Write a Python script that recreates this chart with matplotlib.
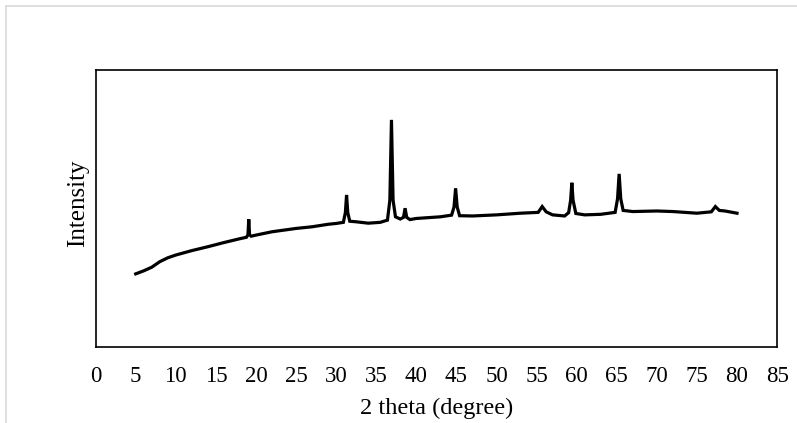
import matplotlib
matplotlib.use("Agg")
import matplotlib.pyplot as plt
from matplotlib.lines import Line2D

plt.rcParams["font.family"] = ["Liberation Serif", "DejaVu Serif"]

# ── XRD pattern (arbitrary intensity units) ───
two_theta = [5.0, 6.0, 7.0, 8.0, 9.0, 10.0, 12.0, 14.0, 16.0, 18.0,
             18.8, 19.0, 19.1, 19.2, 19.4, 20.0, 22.0, 25.0, 27.0, 29.0,
             30.0, 30.9, 31.15, 31.3, 31.45, 31.7, 32.5, 34.0, 35.5, 36.4,
             36.7, 36.9, 37.1, 37.4, 38.0, 38.4, 38.6, 38.8, 39.2, 40.0,
             43.0, 44.4, 44.7, 44.9, 45.1, 45.4, 47.0, 50.0, 53.0, 55.2,
             55.7, 56.2, 57.0, 58.5, 59.0, 59.25, 59.4, 59.55, 59.9, 61.0,
             63.0, 64.8, 65.1, 65.3, 65.5, 65.8, 67.0, 70.0, 72.0, 75.0,
             76.8, 77.3, 77.8, 78.5, 80.0]
intensity = [26.4, 27.5, 28.8, 30.8, 32.2, 33.2, 34.8, 36.2, 37.7, 39.1,
             39.6, 40.5, 46.1, 40.5, 40.0, 40.4, 41.6, 42.8, 43.4, 44.3,
             44.6, 45.0, 48.5, 54.9, 48.5, 45.4, 45.2, 44.7, 45.0, 45.8,
             53.0, 82.0, 53.0, 47.0, 46.2, 46.8, 50.1, 46.8, 46.0, 46.4,
             47.0, 47.6, 50.5, 57.3, 50.5, 47.4, 47.3, 47.7, 48.3, 48.6,
             50.7, 48.8, 47.7, 47.3, 48.5, 53.0, 59.3, 53.0, 48.2, 47.7,
             47.9, 48.6, 53.5, 62.5, 53.5, 49.3, 48.9, 49.1, 48.9, 48.3,
             48.8, 50.7, 49.3, 49.1, 48.3]

XTICKS = list(range(0, 90, 5))

fig = plt.figure(figsize=(7.97, 4.23), dpi=100)
ax = fig.add_axes([0.1200, 0.1797, 0.975 - 0.1200, 0.8345 - 0.1797])

ax.plot(two_theta, intensity, color="black", lw=2.3, solid_joinstyle="miter")

ax.set_xlim(0, 85)
ax.set_ylim(0, 100)
ax.set_xticks(XTICKS)
ax.set_xticklabels([str(t) for t in XTICKS])
ax.set_yticks([])
ax.tick_params(axis="x", length=0, pad=13.5, labelsize=16.5)
for sp in ax.spines.values():
    sp.set_color("black")
    sp.set_linewidth(1.2)

ax.set_xlabel("2 theta (degree)", fontsize=17.5, labelpad=8)
ax.set_ylabel("Intensity", fontsize=18)
ax.yaxis.set_label_coords(-0.009, 0.519)

# light grey chart-area border (left and top edges visible)
W, H = 797, 423
fig.add_artist(Line2D([6 / W, 6 / W], [0, 1 - 6 / H], transform=fig.transFigure,
                      color="#d9d9d9", lw=1.2))
fig.add_artist(Line2D([6 / W, 1], [1 - 6 / H, 1 - 6 / H], transform=fig.transFigure,
                      color="#d9d9d9", lw=1.2))

fig.savefig("out.png", dpi=100, facecolor="white")
